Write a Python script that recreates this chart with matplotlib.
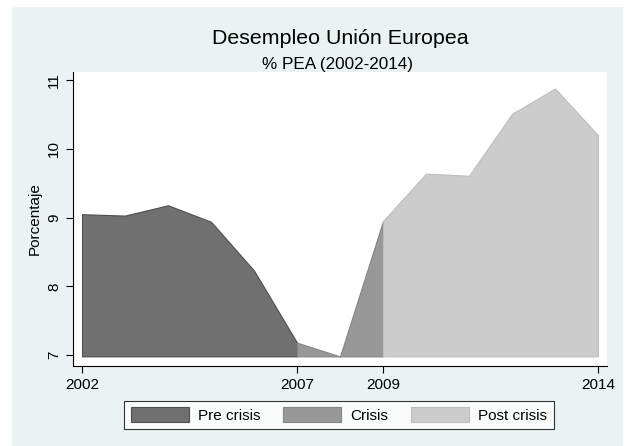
import numpy as np
import matplotlib.pyplot as plt
from matplotlib.patches import Patch, Rectangle

plt.rcParams['font.family'] = ['Liberation Sans', 'DejaVu Sans']

pre_years = [2002, 2003, 2004, 2005, 2006, 2007]
pre_vals = [9.05, 9.03, 9.18, 8.94, 8.23, 7.18]
crisis_years = [2007, 2008, 2009]
crisis_vals = [7.18, 6.98, 8.95]
post_years = [2009, 2010, 2011, 2012, 2013, 2014]
post_vals = [8.95, 9.64, 9.61, 10.51, 10.88, 10.20]

labels = ['Pre crisis', 'Crisis', 'Post crisis']
fills = ['#707070', '#989898', '#cccccc']
edges = ['#4f4f4f', '#858585', '#bdbdbd']

bg = '#eaf2f3'
base = min(pre_vals + crisis_vals + post_vals)

fig = plt.figure(figsize=(6.29, 4.46), dpi=100)
fig.patch.set_facecolor('white')
# light graph region, leaves a thin white border like the exported original
fig.add_artist(Rectangle((12/629, 0), (623-12)/629, (446-7)/446,
                         transform=fig.transFigure, facecolor=bg, edgecolor='none', zorder=-1))

ax = fig.add_axes([73/629, 1-366/446, (607-73)/629, (366-72)/446])
ax.set_facecolor('white')

series = [(pre_years, pre_vals), (crisis_years, crisis_vals), (post_years, post_vals)]
for (xs, ys), fc, ec in zip(series, fills, edges):
    ax.fill_between(xs, ys, base, facecolor=fc, edgecolor=ec, lw=0.8)

ax.set_xlim(2001.79, 2014.21)
ax.set_ylim(6.84, 11.12)
ax.set_xticks([2002, 2007, 2009, 2014])
ax.set_yticks([7, 8, 9, 10, 11])
for s in ['top', 'right']:
    ax.spines[s].set_visible(False)
for s in ['left', 'bottom']:
    ax.spines[s].set_linewidth(0.8)
ax.tick_params(direction='out', length=5, width=0.8, labelsize=11, colors='black')
plt.setp(ax.get_yticklabels(), rotation=90, va='center')
ax.set_ylabel('Porcentaje', fontsize=11, labelpad=4)

fig.text(340/629, 1-38/446, 'Desempleo Unión Europea', ha='center', va='center', fontsize=15.4)
fig.text(337/629, 1-64/446, '% PEA (2002-2014)', ha='center', va='center', fontsize=12.3)

handles = [Patch(facecolor=fc, edgecolor=ec, lw=0.8) for fc, ec in zip(fills, edges)]
leg = fig.legend(handles, labels, loc='center', bbox_to_anchor=(339/629, 1-415/446),
                 ncol=3, frameon=True, fancybox=False, edgecolor='black', fontsize=11,
                 handlelength=3.8, handleheight=1.05, columnspacing=1.5, handletextpad=0.6,
                 borderpad=0.4, borderaxespad=0)
leg.get_frame().set_linewidth(0.8)

plt.savefig('out.png', dpi=100, facecolor='white')
